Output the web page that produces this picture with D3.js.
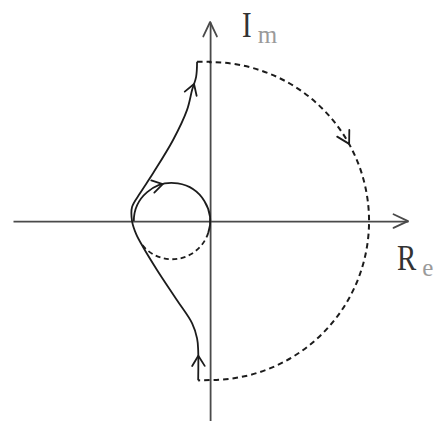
<!DOCTYPE html>
<html>
<head>
<meta charset="utf-8">
<script src="https://cdn.jsdelivr.net/npm/d3@7"></script>
<style>
  html, body { margin: 0; padding: 0; background: #fff; }
  svg { display: block; }
</style>
</head>
<body>
<svg id="chart" width="436" height="421"></svg>
<script>
// Nyquist contour, in units of the large semicircle's radius (Re, Im).
// Solid branch, traced from the bottom of the plane up to the top.
const branchRe = [-0.075, -0.075, -0.082, -0.113, -0.208, -0.333, -0.421, -0.465, -0.491, -0.491, -0.440, -0.358, -0.233, -0.145, -0.113, -0.088, -0.082];
const branchIm = [-1.000, -0.810, -0.736, -0.642, -0.497, -0.308, -0.164, -0.082, 0.000, 0.088, 0.176, 0.302, 0.509, 0.698, 0.824, 0.906, 1.000];
// Direction arrows on the solid branch, as fractions of its length.
const branchArrows = [0.07, 0.936];

// Large dashed semicircle (infinite-radius mapping), radius 1 about the origin,
// with short joins back to the ends of the solid branch.
const bigRadius = 1;
const bigJoinRe = [-0.082, -0.075];   // top join, bottom join
const bigArrowDeg = [29];             // arrow position, degrees from +Re

// Small circle through the origin.
const smallCentre = [-0.24, 0];
const smallRadius = 0.24;
const smallSolidDeg = [180, -18];     // solid arc, clockwise
const smallDashDeg = [-18, -145];     // dashed arc, clockwise
const smallArrowDeg = [104];

// Axis extents.
const reDomain = [-1.24, 1.245];
const imDomain = [-1.255, 1.25];
const axisLabels = [{ main: "I", sub: "m" }, { main: "R", sub: "e" }];

const svg = d3.select("#chart");
const x = d3.scaleLinear().domain(reDomain).range([13, 408]);
const y = d3.scaleLinear().domain(imDomain).range([421, 22]);
const px = x(1) - x(0);   // pixels per unit

const ink = "#1c1c1c";
const axisInk = "#4a4a4a";

// chevron arrowhead with its tip at (tx, ty), pointing along angle a (radians, screen)
function chevron(g, tx, ty, a, len, half, colour, width) {
  const p = d3.path();
  p.moveTo(tx - len * Math.cos(a - half), ty - len * Math.sin(a - half));
  p.lineTo(tx, ty);
  p.lineTo(tx - len * Math.cos(a + half), ty - len * Math.sin(a + half));
  g.append("path").attr("d", p.toString())
    .attr("fill", "none").attr("stroke", colour).attr("stroke-width", width)
    .attr("stroke-linecap", "round").attr("stroke-linejoin", "round");
}

// ---- axes ----
const axes = svg.append("g");
axes.append("g").attr("transform", `translate(0,${y(0)})`)
  .call(d3.axisBottom(x).tickValues([]).tickSizeOuter(0));
axes.append("g").attr("transform", `translate(${x(0)},0)`)
  .call(d3.axisLeft(y).tickValues([]).tickSizeOuter(0));
axes.selectAll(".domain").attr("stroke", axisInk).attr("stroke-width", 1.8);
chevron(axes, x(reDomain[1]), y(0), 0, 16, 0.44, axisInk, 1.8);
chevron(axes, x(0), y(imDomain[1]), -Math.PI / 2, 16, 0.44, axisInk, 1.8);

// axis labels: letter plus lighter subscript
const lab = svg.append("g").attr("font-family", "'Liberation Serif', 'DejaVu Serif', serif");
const squeeze = 0.8;
function axisLabel(d, lx, ly) {
  const t = lab.append("g").attr("transform", `translate(${lx},${ly})`);
  const m = t.append("text").attr("transform", `scale(${squeeze},1)`)
    .attr("font-size", 36).attr("fill", "#333").text(d.main);
  const w = m.node().getComputedTextLength() * squeeze;
  t.append("text").attr("x", w + 6).attr("y", 6)
    .attr("font-size", 25).attr("fill", "#9a9a9a").text(d.sub);
}
axisLabel(axisLabels[0], x(0) + 32, y(imDomain[1]) + 15);
axisLabel(axisLabels[1], x(reDomain[1]) - 11, y(0) + 49);

// ---- large dashed semicircle ----
const big = d3.path();
big.moveTo(x(bigJoinRe[0]), y(bigRadius));
big.lineTo(x(0), y(bigRadius));
big.arc(x(0), y(0), bigRadius * px, -Math.PI / 2, Math.PI / 2, false);
big.lineTo(x(bigJoinRe[1]), y(-bigRadius));
svg.append("path").attr("d", big.toString())
  .attr("fill", "none").attr("stroke", ink).attr("stroke-width", 2)
  .attr("stroke-dasharray", "5.5,4");
bigArrowDeg.forEach(deg => {
  const a = -deg * Math.PI / 180;              // screen angle of the point
  chevron(svg, x(bigRadius * Math.cos(-a)), y(bigRadius * Math.sin(-a)),
    a + Math.PI / 2, 14, 0.52, ink, 1.8);
});

// ---- small circle ----
const scx = x(smallCentre[0]), scy = y(smallCentre[1]), sr = smallRadius * px;
function smallArc(degs) {
  const p = d3.path();
  const a0 = -degs[0] * Math.PI / 180, a1 = -degs[1] * Math.PI / 180;
  p.moveTo(scx + sr * Math.cos(a0), scy + sr * Math.sin(a0));
  p.arc(scx, scy, sr, a0, a1, false);
  return p.toString();
}
svg.append("path").attr("d", smallArc(smallSolidDeg))
  .attr("fill", "none").attr("stroke", ink).attr("stroke-width", 1.8);
svg.append("path").attr("d", smallArc(smallDashDeg))
  .attr("fill", "none").attr("stroke", ink).attr("stroke-width", 1.8)
  .attr("stroke-dasharray", "5,3.5");
smallArrowDeg.forEach(deg => {
  const a = -deg * Math.PI / 180;
  chevron(svg, scx + sr * Math.cos(a), scy + sr * Math.sin(a),
    a + Math.PI / 2, 12, 0.55, ink, 1.8);
});

// ---- solid branch ----
const branch = d3.zip(branchRe, branchIm);
const line = d3.line().x(d => x(d[0])).y(d => y(d[1])).curve(d3.curveCatmullRom.alpha(0.5));
const branchPath = svg.append("path").attr("d", line(branch))
  .attr("fill", "none").attr("stroke", ink).attr("stroke-width", 1.8)
  .attr("stroke-linejoin", "round");
const node = branchPath.node();
const total = node.getTotalLength();
branchArrows.forEach(f => {
  const l = f * total;
  const p = node.getPointAtLength(l);
  const q = node.getPointAtLength(Math.min(total, l + 2));
  const r = node.getPointAtLength(Math.max(0, l - 2));
  chevron(svg, p.x, p.y, Math.atan2(q.y - r.y, q.x - r.x), 12, 0.55, ink, 1.8);
});
</script>
</body>
</html>
